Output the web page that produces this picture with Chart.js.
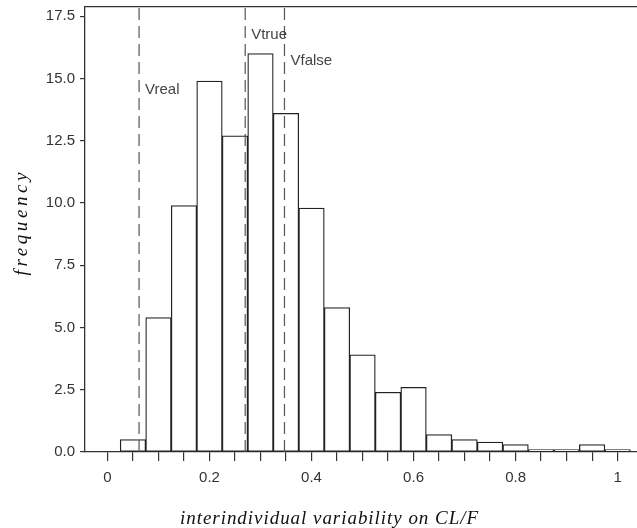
<!DOCTYPE html>
<html>
<head>
<meta charset="utf-8">
<script src="https://cdn.jsdelivr.net/npm/chart.js@4.4.0/dist/chart.umd.min.js"></script>
<style>
	html, body { margin: 0; padding: 0; background: #fff; }
	#wrap { width: 637px; height: 528px; }
</style>
</head>
<body>
<div id="wrap"><canvas id="mycanvas" width="637" height="528"></canvas></div>
<script>
// histogram bins (centres), width 0.05
var binCenters = [0.05, 0.10, 0.15, 0.20, 0.25, 0.30, 0.35, 0.40, 0.45, 0.50,
	0.55, 0.60, 0.65, 0.70, 0.75, 0.80, 0.85, 0.90, 0.95, 1.00];
var frequency = [0.5, 5.4, 9.9, 14.9, 12.7, 16.0, 13.6, 9.8, 5.8, 3.9,
	2.4, 2.6, 0.7, 0.5, 0.4, 0.3, 0.1, 0.1, 0.3, 0.1];

// reference lines
var refNames = ['Vreal', 'Vtrue', 'Vfalse'];
var refValues = [0.062, 0.27, 0.347];
var refLabelY = [14.55, 16.75, 15.72];

var yTickValues = [0, 2.5, 5, 7.5, 10, 12.5, 15, 17.5];
var xTickLabels = ['0', '0.2', '0.4', '0.6', '0.8', '1'];

var xTitle = 'interindividual variability on CL/F';
var yTitle = 'frequency';

var xMin = -0.044, xMax = 1.038;
var yMin = 0, yMax = 17.87;

var tickFont = { family: '"Liberation Sans", Arial, sans-serif', size: 15 };
var tickColor = '#333';

function spacedText(ctx, text, x, y, target) {
	ctx.letterSpacing = '0px';
	var w = ctx.measureText(text).width;
	var sp = (target - w) / (text.length - 1);
	ctx.letterSpacing = sp + 'px';
	ctx.textAlign = 'left';
	ctx.fillText(text, x - target / 2, y);
}

var annotate = {
	id: 'annotate',
	afterDraw: function(chart) {
		var ctx = chart.ctx;
		var xs = chart.scales.x, ys = chart.scales.y;
		ctx.save();
		ctx.font = '15px "Liberation Sans", Arial, sans-serif';
		ctx.fillStyle = '#444';
		ctx.textBaseline = 'middle';
		ctx.textAlign = 'left';
		for (var i = 0; i < refNames.length; i++) {
			ctx.fillText(refNames[i], xs.getPixelForValue(refValues[i]) + 6, ys.getPixelForValue(refLabelY[i]));
		}

		// axis titles
		ctx.font = 'italic 19px "Liberation Serif", "Times New Roman", serif';
		ctx.fillStyle = '#111';
		ctx.textBaseline = 'alphabetic';
		spacedText(ctx, xTitle, 329, 524, 298);

		ctx.translate(27, 224);
		ctx.rotate(-Math.PI / 2);
		spacedText(ctx, yTitle, 0, 0, 103);
		ctx.restore();
	}
};

var datasets = [];
for (var i = 0; i < refValues.length; i++) {
	datasets.push({
		type: 'line',
		label: refNames[i],
		data: [{ x: refValues[i], y: yMin }, { x: refValues[i], y: yMax }],
		borderColor: '#555',
		borderWidth: 1.2,
		borderDash: [12, 6],
		pointRadius: 0,
		fill: false,
		order: 0
	});
}
datasets.push({
	type: 'bar',
	label: 'frequency',
	data: binCenters.map(function(x, i) { return { x: x, y: frequency[i] }; }),
	backgroundColor: '#fff',
	borderColor: '#222',
	borderWidth: 1.3,
	borderSkipped: false,
	barPercentage: 1,
	categoryPercentage: 1,
	order: 1
});

function noPad(s) {
	s.paddingTop = 0;
	s.paddingBottom = 0;
	s.paddingLeft = 0;
	s.paddingRight = 0;
}

var ctx = document.getElementById('mycanvas');
var chart = new Chart(ctx, {
	type: 'bar',
	data: { datasets: datasets },
	options: {
		responsive: false,
		animation: false,
		layout: { padding: 0 },
		plugins: {
			legend: { display: false },
			tooltip: { enabled: false },
			title: { display: false }
		},
		scales: {
			x: {
				type: 'linear',
				position: 'bottom',
				min: xMin,
				max: xMax,
				offset: false,
				grid: { display: true, offset: false, drawOnChartArea: false, drawTicks: true, tickLength: 9, color: '#333', lineWidth: 1.2 },
				border: { display: true, color: '#333', width: 1.3 },
				ticks: {
					stepSize: 0.05,
					autoSkip: false,
					maxRotation: 0,
					includeBounds: false,
					padding: 8,
					font: tickFont,
					color: tickColor,
					callback: function(v) {
						var k = Math.round(v * 20);
						if (k % 4 !== 0) return '';
						return xTickLabels[k / 4];
					}
				},
				afterFit: function(s) { s.height = 76; noPad(s); }
			},
			x2: {
				type: 'linear',
				position: 'top',
				min: xMin,
				max: xMax,
				display: true,
				grid: { display: false },
				border: { display: true, color: '#333', width: 1.3 },
				ticks: { display: false },
				afterFit: function(s) { s.height = 7; noPad(s); }
			},
			y: {
				type: 'linear',
				min: yMin,
				max: yMax,
				grid: { display: true, drawOnChartArea: false, drawTicks: true, tickLength: 5, color: '#333', lineWidth: 1.2 },
				border: { display: true, color: '#333', width: 1.3 },
				ticks: {
					stepSize: 2.5,
					includeBounds: false,
					padding: 5,
					font: tickFont,
					color: tickColor,
					callback: function(v) { return v.toFixed(1); }
				},
				afterBuildTicks: function(s) {
					s.ticks = yTickValues.map(function(v) { return { value: v }; });
				},
				afterFit: function(s) { s.width = 85; noPad(s); }
			}
		}
	},
	plugins: [annotate]
});
</script>
</body>
</html>
